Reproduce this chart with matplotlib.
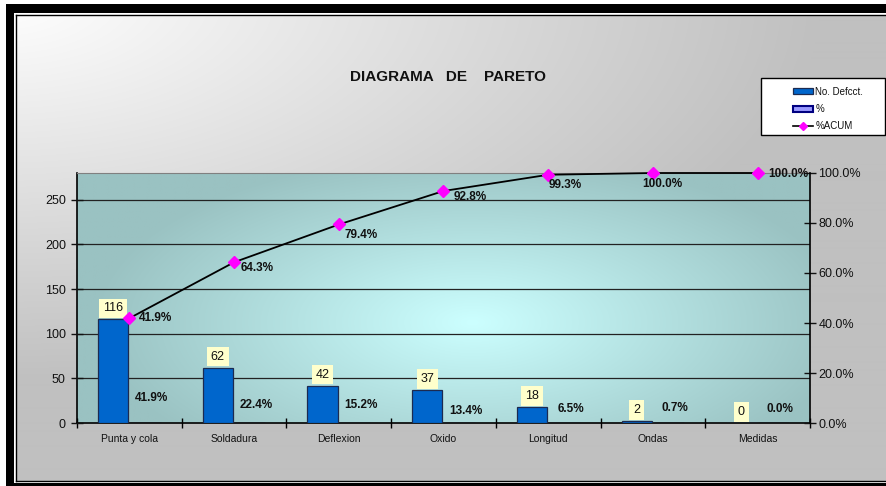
import numpy as np
import matplotlib
matplotlib.use("Agg")
import matplotlib.pyplot as plt
from matplotlib.patches import Rectangle, Patch
from matplotlib.lines import Line2D
from matplotlib.ticker import FuncFormatter

# ---------------- data ----------------
categories = ["Punta y cola", "Soldadura", "Deflexion", "Oxido", "Longitud", "Ondas", "Medidas"]
defects = [116, 62, 42, 37, 18, 2, 0]
pct = [41.9, 22.4, 15.2, 13.4, 6.5, 0.7, 0.0]
pct_acum = [41.9, 64.3, 79.4, 92.8, 99.3, 100.0, 100.0]
left_ticks = [0, 50, 100, 150, 200, 250]
right_ticks = [0.0, 0.2, 0.4, 0.6, 0.8, 1.0]
title_text = "DIAGRAMA   DE    PARETO"
legend_labels = ["No. Defcct.", "%", "%ACUM"]

# label placement offsets (pixels), style only
acum_label_offsets = [(10, 0), (7, -6), (6, -11), (10, -6), (0, -10), (-11, -11), (11, -1)]
pct_label_dy = [25, 18, 18, 12, 14, 15, 14]

plt.rcParams['font.family'] = ['Liberation Sans', 'DejaVu Sans']

W, H = 887, 486
fig = plt.figure(figsize=(W / 100, H / 100), dpi=100)

# ---------------- background ----------------
bg = fig.add_axes([0, 0, 1, 1], zorder=-10)
bg.set_xlim(0, W)
bg.set_ylim(H, 0)
bg.axis('off')
yy, xx = np.mgrid[0:H, 0:W]
t = np.clip(np.sqrt((xx / 820.0) ** 2 + (yy / 380.0) ** 2), 0, 1)
c0 = np.array([1.0, 1.0, 1.0])
c1 = np.array([192, 192, 192]) / 255.0
img = c0[None, None, :] * (1 - t[..., None]) + c1[None, None, :] * t[..., None]
bg.imshow(img, extent=(0, W, H, 0), aspect='auto', interpolation='bilinear', zorder=0)
# white outer margin
bg.add_patch(Rectangle((0, 0), 6, H, facecolor='white', edgecolor='none', zorder=1))
bg.add_patch(Rectangle((0, 0), W, 4, facecolor='white', edgecolor='none', zorder=1))
# thick black frame
bg.add_patch(Rectangle((6, 4), 8, H, facecolor='black', edgecolor='none', zorder=2))
bg.add_patch(Rectangle((6, 4), W, 9, facecolor='black', edgecolor='none', zorder=2))
bg.add_patch(Rectangle((6, 483), W, 4, facecolor='black', edgecolor='none', zorder=2))
# white gap
bg.add_patch(Rectangle((14, 13), 2, 470, facecolor='white', edgecolor='none', zorder=2))
bg.add_patch(Rectangle((14, 13), W, 2, facecolor='white', edgecolor='none', zorder=2))
bg.add_patch(Rectangle((14, 481), W, 2, facecolor='white', edgecolor='none', zorder=2))
# thin inner line
bg.plot([16.5, 16.5], [15.5, 480.5], color='black', lw=1.0, zorder=3)
bg.plot([16.5, W], [15.5, 15.5], color='black', lw=1.0, zorder=3)
bg.plot([16.5, W], [480.5, 480.5], color='black', lw=1.0, zorder=3)

# legend frame
bg.add_patch(Rectangle((761.5, 78.5), 124, 57, facecolor='white', edgecolor='black', lw=1.0, zorder=4))

# ---------------- main axes ----------------
x0, x1 = 77, 810
y_top, y_bot = 173, 423
ax = fig.add_axes([x0 / W, 1 - y_bot / H, (x1 - x0) / W, (y_bot - y_top) / H])
ax.set_facecolor('none')

# plot-area gradient
gy, gx = np.mgrid[0:1:200j, 0:1:400j]
r = np.clip(np.sqrt(((gx - 0.54) / 0.52) ** 2 + ((gy - 0.40) / 0.68) ** 2), 0, 1)
ca = np.array([204, 255, 255]) / 255.0
cb = np.array([154, 194, 194]) / 255.0
pimg = ca[None, None, :] * (1 - r[..., None]) + cb[None, None, :] * r[..., None]
ax.imshow(pimg, extent=(0, 1, 0, 1), origin='lower', transform=ax.transAxes,
          aspect='auto', zorder=0, interpolation='bilinear')

n = len(categories)
x = np.arange(n)
bw = 0.29
ax.bar(x - 0.155, defects, bw, color='#0066cc', edgecolor='#1c2a50', linewidth=0.9, zorder=3)
pct_frac = [p / 100.0 for p in pct]
ax.bar(x + 0.155, pct_frac, bw, color='#9999ff', edgecolor='#000080', linewidth=0.9, zorder=1)

ax.set_xlim(-0.5, n - 0.5)
ax.set_ylim(0, 280)
ax.set_yticks(left_ticks)
ax.yaxis.grid(True, color='#222222', lw=0.9, zorder=1)
ax.set_axisbelow(False)
for gl in ax.get_ygridlines():
    gl.set_zorder(1)

ax.set_xticks(np.arange(-0.5, n, 1.0))
ax.set_xticklabels([])
ax.set_xticks(x, minor=True)
ax.set_xticklabels(categories, minor=True, fontsize=7.5, color='#111111')
ax.tick_params(axis='x', which='major', direction='inout', length=7, width=1.0)
ax.tick_params(axis='x', which='minor', length=0, pad=8)
ax.tick_params(axis='y', which='major', direction='inout', length=8, width=1.0,
               labelsize=9, pad=4, colors='#111111')

for s in ['left', 'bottom']:
    ax.spines[s].set_color('black')
    ax.spines[s].set_linewidth(1.2)
ax.spines['top'].set_color('#808080')
ax.spines['right'].set_visible(False)

# value labels
for xi, v in zip(x, defects):
    ax.annotate(str(v), xy=(xi - 0.155, v), xytext=(0, 5), textcoords='offset pixels',
                ha='center', va='bottom', fontsize=9, color='#111111', zorder=6,
                bbox=dict(boxstyle='square,pad=0.3', facecolor='#ffffcc', edgecolor='none'))
# % labels
for xi, v, f, dy in zip(x, pct, pct_frac, pct_label_dy):
    ax.annotate(f"{v:.1f}%", xy=(xi + 0.155, f), xytext=(6, dy), textcoords='offset pixels',
                ha='center', va='center', fontsize=8.5, fontweight='bold', color='#111111', zorder=6)

# ---------------- secondary axis ----------------
ax2 = ax.twinx()
ax2.set_ylim(0, 1.0)
ax2.set_yticks(right_ticks)
ax2.yaxis.set_major_formatter(FuncFormatter(lambda v, p: f"{v * 100:.1f}%"))
ax2.tick_params(axis='y', direction='inout', length=8, width=1.0, labelsize=9, pad=2,
                colors='#111111')
ax2.spines['right'].set_color('black')
ax2.spines['right'].set_linewidth(1.2)
for s in ['left', 'top', 'bottom']:
    ax2.spines[s].set_visible(False)
acum_frac = [p / 100.0 for p in pct_acum]
ax2.plot(x, acum_frac, color='black', lw=1.3, zorder=4, clip_on=False)
ax2.plot(x, acum_frac, linestyle='none', marker='D', markersize=6.5, color='#ff00ff',
         markeredgecolor='#ff00ff', zorder=5, clip_on=False)
for xi, v, f, (dx, dy) in zip(x, pct_acum, acum_frac, acum_label_offsets):
    ax2.annotate(f"{v:.1f}%", xy=(xi, f), xytext=(dx, dy), textcoords='offset pixels',
                 ha='left', va='center', fontsize=8.5, fontweight='bold', color='#111111',
                 zorder=6, annotation_clip=False)

# ---------------- title ----------------
fig.text(448.5 / W, 1 - 77 / H, title_text, ha='center', va='center', fontsize=11,
         fontweight='bold', color='#111111')

# ---------------- legend ----------------
handles = [
    Patch(facecolor='#0066cc', edgecolor='#1c2a50', linewidth=0.9),
    Patch(facecolor='#9999ff', edgecolor='#000080', linewidth=1.5),
    Line2D([0], [0], color='black', lw=1.2, marker='D', markersize=4.5,
           markerfacecolor='#ff00ff', markeredgecolor='#ff00ff'),
]
leg = fig.legend(handles, legend_labels, loc='upper left',
                 bbox_to_anchor=(786 / W, 1 - 80 / H), frameon=False, fontsize=7,
                 handlelength=2.1, handleheight=0.6, handletextpad=0.2,
                 labelspacing=0.75, borderpad=0.2)
for txt in leg.get_texts():
    txt.set_color('#111111')

fig.savefig('out.png', dpi=100)
